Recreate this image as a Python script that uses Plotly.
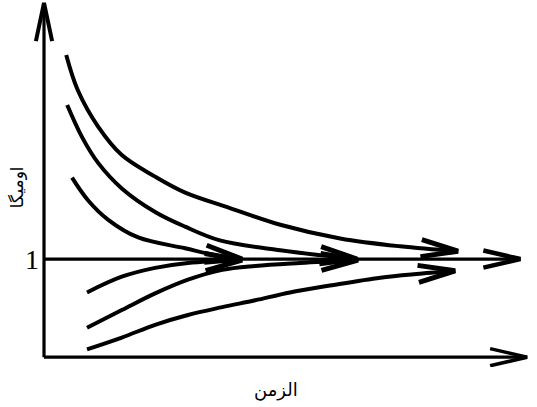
import math
import plotly.graph_objects as go

# ---- data (abstract units: time on x, omega on y) ----
curve_a_t = [0.46, 0.70, 1.12, 1.61, 2.30, 2.91, 3.85, 4.89, 6.13, 7.37, 8.57]
curve_a_w = [3.08, 2.72, 2.35, 2.06, 1.84, 1.68, 1.52, 1.35, 1.21, 1.13, 1.08]

curve_b_t = [0.48, 0.79, 1.12, 1.61, 2.30, 2.92, 3.64, 4.89, 5.71, 6.48]
curve_b_w = [2.57, 2.24, 1.98, 1.72, 1.48, 1.33, 1.19, 1.09, 1.04, 1.00]

curve_c_t = [0.58, 0.91, 1.33, 1.95, 2.92, 3.54, 4.10]
curve_c_w = [1.83, 1.60, 1.40, 1.22, 1.11, 1.04, 1.00]

curve_d_t = [0.89, 1.61, 2.30, 2.98, 4.10]
curve_d_w = [0.66, 0.82, 0.91, 0.96, 0.99]

curve_e_t = [0.89, 1.61, 2.30, 2.98, 3.69, 4.37, 5.30, 6.50]
curve_e_w = [0.30, 0.48, 0.65, 0.79, 0.89, 0.93, 0.96, 0.99]

curve_f_t = [0.89, 1.61, 2.30, 2.98, 3.69, 4.37, 5.09, 5.92, 6.96, 7.78, 8.51]
curve_f_w = [0.08, 0.20, 0.33, 0.43, 0.51, 0.58, 0.66, 0.73, 0.81, 0.85, 0.88]

equilibrium = 1.0
x_axis_end = 10.0
y_axis_end = 3.61
eq_line_end = 9.86

y_tick_vals = [1]
y_tick_text = ["1"]
x_title = "الزمن"
y_title = "اومیگا"

# ---- layout geometry ----
W, H = 537, 407
M = dict(l=30, r=6, t=0, b=40)
XR = [-0.29, 10.08]
YR = [-0.10, 3.64]
sx = (W - M["l"] - M["r"]) / (XR[1] - XR[0])
sy = (H - M["t"] - M["b"]) / (YR[1] - YR[0])

fig = go.Figure()


def add_line(xs, ys, width, spline=True):
    fig.add_trace(go.Scatter(
        x=xs, y=ys, mode="lines",
        line=dict(color="black", width=width,
                  shape="spline" if spline else "linear", smoothing=1.0),
        hoverinfo="skip", showlegend=False))


def add_head(x0, y0, x1, y1, length=38, ang=13, width=4.5):
    dx = (x1 - x0) * sx
    dy = (y1 - y0) * sy
    n = math.hypot(dx, dy)
    ux, uy = dx / n, dy / n
    pts_x, pts_y = [], []
    for s in (1, -1):
        a = math.radians(ang) * s
        rx = ux * math.cos(a) - uy * math.sin(a)
        ry = ux * math.sin(a) + uy * math.cos(a)
        pts_x.append(x1 - length * rx / sx)
        pts_y.append(y1 - length * ry / sy)
    add_line([pts_x[0], x1, pts_x[1]], [pts_y[0], y1, pts_y[1]], width, spline=False)


# axes
add_line([0, 0], [0, y_axis_end], 3.2, spline=False)
add_head(0, 0, 0, y_axis_end, length=39, ang=12, width=4)
add_line([0, x_axis_end], [0, 0], 3.2, spline=False)
add_head(0, 0, x_axis_end, 0, length=38, ang=13, width=3.5)
add_line([0, eq_line_end], [equilibrium, equilibrium], 3.2, spline=False)
add_head(0, equilibrium, eq_line_end, equilibrium, length=38, ang=13, width=4.5)

# curves
for ts, ws in [(curve_a_t, curve_a_w), (curve_b_t, curve_b_w), (curve_c_t, curve_c_w),
               (curve_d_t, curve_d_w), (curve_e_t, curve_e_w), (curve_f_t, curve_f_w)]:
    add_line(ts, ws, 4)
    add_head(ts[-2], ws[-2], ts[-1], ws[-1], width=5)

# tick label
for v, t in zip(y_tick_vals, y_tick_text):
    fig.add_annotation(x=-0.25, y=v, xref="x", yref="y", text=t, showarrow=False,
                       xanchor="center", yanchor="middle",
                       font=dict(family="Liberation Serif", size=28, color="black"))

fig.add_annotation(x=-0.026, y=0.49, xref="paper", yref="paper", text=y_title, textangle=-90,
                   xanchor="center", yanchor="middle",
                   showarrow=False, font=dict(family="DejaVu Sans", size=17, color="black"))
fig.add_annotation(x=0.491, y=-0.064, xref="paper", yref="paper", text=x_title,
                   xanchor="center", yanchor="middle",
                   showarrow=False, font=dict(family="DejaVu Sans", size=18, color="black"))

fig.update_layout(
    width=W, height=H, margin=M,
    paper_bgcolor="white", plot_bgcolor="white",
    xaxis=dict(range=XR, visible=False),
    yaxis=dict(range=YR, visible=False),
)

fig.write_html("out.html", config={"displayModeBar": False},
               post_script="document.body.style.margin='0';")
